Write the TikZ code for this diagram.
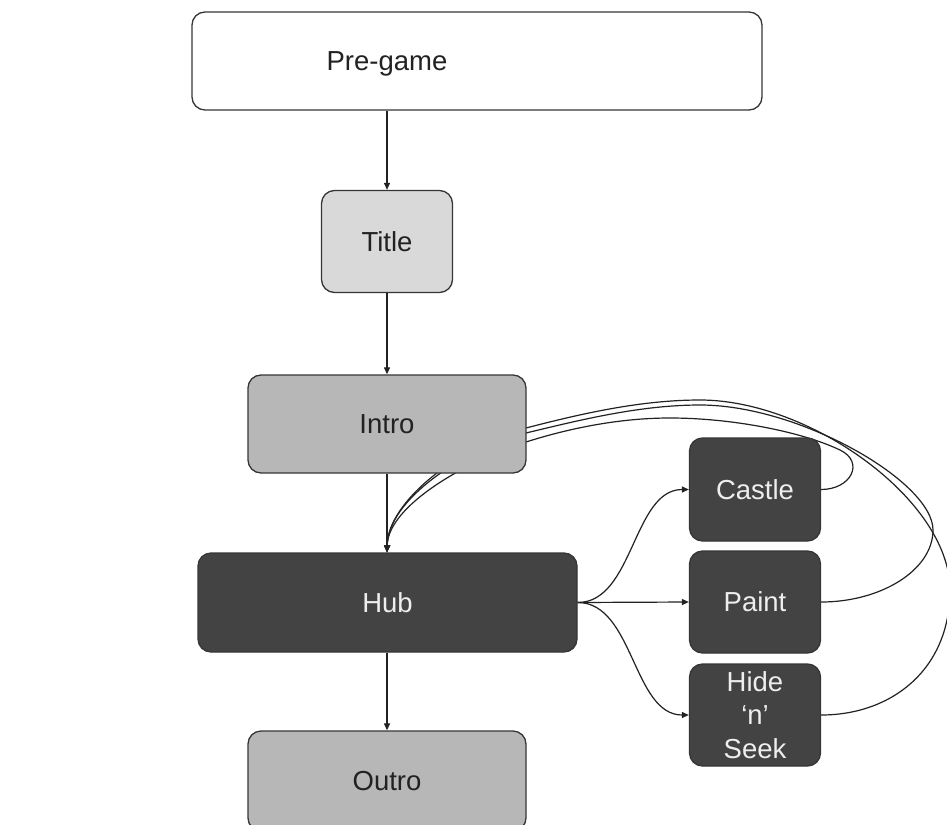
\documentclass[tikz,border=0pt]{standalone}
\usepackage{fontspec}
\setmainfont{Liberation Sans}
\usetikzlibrary{arrows.meta,backgrounds}
\definecolor{boxline}{HTML}{363636}
\definecolor{paleshade}{HTML}{D9D9D9}
\definecolor{midshade}{HTML}{B7B7B7}
\definecolor{darkshade}{HTML}{434343}
\definecolor{inkdark}{HTML}{222222}
\definecolor{inklight}{HTML}{EEEEEE}
\definecolor{wire}{HTML}{222222}
\tikzset{
  stage/.style={draw=boxline, line width=1.3pt, rounded corners=13pt,
    inner sep=0pt, align=center, text=inkdark,
    font=\fontsize{27.5}{33.3}\selectfont},
  pale/.style={stage, fill=paleshade},
  mid/.style={stage, fill=midshade},
  dark/.style={stage, fill=darkshade, text=inklight},
  conn/.style={draw=wire, line width=1.2pt,
    -{Triangle[length=7pt,width=6pt]}}
}
\begin{document}
\begin{tikzpicture}[x=1pt,y=-1pt]
\useasboundingbox (0,0) rectangle (947,824);

% main column
\node[stage, fill=white, minimum width=570pt, minimum height=98pt,
  label={[text=inkdark, font=\fontsize{27.5}{33.3}\selectfont,
          xshift=-90pt, yshift=-3pt]center:Pre-game}]
  (pre) at (477,61) {};
\node[pale, minimum width=131pt, minimum height=102pt] (title) at (387,241.5) {Title};
\node[mid, minimum width=278pt, minimum height=98pt] (intro) at (387,424) {Intro};
\node[dark, minimum width=379pt, minimum height=99pt] (hub) at (387.5,602.5) {Hub};
\node[mid, minimum width=278pt, minimum height=100pt] (outro) at (387,781) {Outro};

% mini games
\node[dark, minimum width=131pt, minimum height=103pt] (castle) at (755,489.5) {Castle};
\node[dark, minimum width=131pt, minimum height=102pt] (paint) at (755,602) {Paint};
\node[dark, minimum width=131pt, minimum height=102pt] (hide) at (755,715) {Hide\\‘n’\\Seek};

% straight flow
\draw[conn] (title.north |- pre.south) -- (title.north);
\draw[conn] (title.south) -- (title.north |- intro.north);
\draw[conn] (title.south |- intro.south) -- (title.north |- hub.north);
\draw[conn] (title.south |- hub.south) -- (title.north |- outro.north);

% hub fans out to the mini games
\draw[conn] (hub.east) .. controls +(56,0) and +(-56,0) .. (castle.west);
\draw[conn] (hub.east) -- (paint.west);
\draw[conn] (hub.east) .. controls +(56,0) and +(-56,0) .. (hide.west);

% page ground, then the returns from the mini games routed behind the intro box
\begin{scope}[on background layer]
\fill[white] (0,0) rectangle (947,824);
\draw[conn] (castle.east) .. controls +(30,0) and (865,462) .. (840,450)
  .. controls (800,431) and (730,418) .. (670,418)
  .. controls (620,418) and (570,428) .. (526,442)
  .. controls (469,460) and (388,505) .. (title.north |- hub.north);
\draw[conn] (paint.east) .. controls +(60,0) and (933,570) .. (933,530)
  .. controls (933,482) and (800,405) .. (700,405)
  .. controls (640,405) and (580,420) .. (526,433)
  .. controls (461,451) and (388,500) .. (title.north |- hub.north);
\draw[conn] (hide.east) .. controls +(70,0) and (950,670) .. (950,590)
  .. controls (950,500) and (810,400) .. (700,400)
  .. controls (640,400) and (580,414) .. (526,428)
  .. controls (461,446) and (388,500) .. (title.north |- hub.north);
\end{scope}
\end{tikzpicture}
\end{document}
